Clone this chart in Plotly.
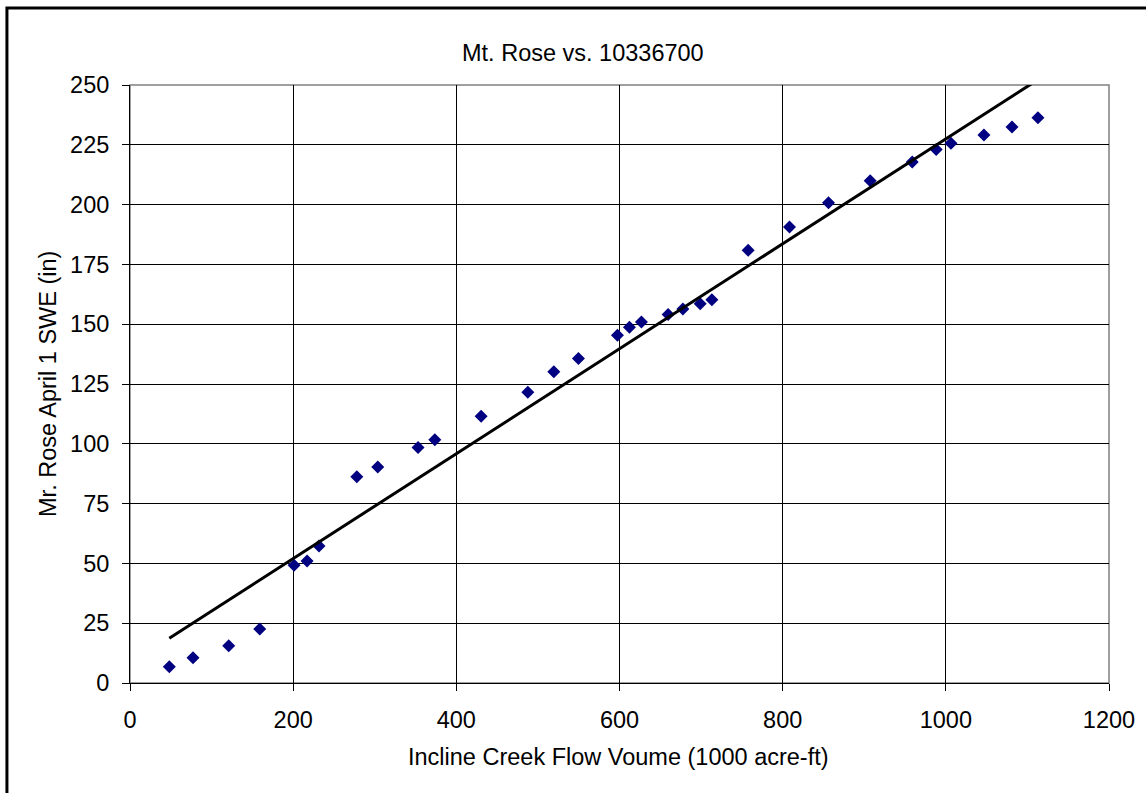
import numpy as np
import plotly.graph_objects as go

# Incline Creek flow volume (1000 acre-ft) vs. Mt. Rose April 1 SWE (in)
flow_volume = [48.2, 77.2, 121.0, 159.0, 201.1, 217.0, 231.7, 278.0, 303.7, 353.1,
               373.6, 430.4, 487.6, 519.5, 549.7, 597.5, 612.2, 626.9, 659.6, 677.7,
               698.9, 713.2, 757.7, 808.4, 856.2, 907.3, 958.8, 988.2, 1006.3, 1046.7,
               1081.1, 1112.9]
swe = [6.8, 10.6, 15.6, 22.6, 49.2, 51.0, 57.3, 86.2, 90.3, 98.5,
       101.7, 111.5, 121.5, 130.1, 135.7, 145.4, 148.7, 150.9, 154.1, 156.4,
       158.6, 160.2, 180.9, 190.6, 200.8, 210.0, 217.8, 223.0, 225.6, 229.1,
       232.4, 236.3]

x_ticks = [0, 200, 400, 600, 800, 1000, 1200]
y_ticks = [0, 25, 50, 75, 100, 125, 150, 175, 200, 225, 250]

title_text = "Mt. Rose vs. 10336700"
x_title = "Incline Creek Flow Voume (1000 acre-ft)"
y_title = "Mr. Rose April 1 SWE (in)"

# Linear trendline over the range of the data
slope, intercept = np.polyfit(flow_volume, swe, 1)
trend_x = [min(flow_volume), max(flow_volume)]
trend_y = [slope * v + intercept for v in trend_x]

FONT = "Liberation Sans, Arial, sans-serif"
TICK_SIZE = 23.5
TITLE_SIZE = 23.5

fig = go.Figure()
fig.add_trace(go.Scatter(
    x=flow_volume, y=swe, mode="markers",
    marker=dict(symbol="diamond", size=10, color="#000080"),
    showlegend=False, hoverinfo="x+y",
))
fig.add_trace(go.Scatter(
    x=trend_x, y=trend_y, mode="lines",
    line=dict(color="black", width=3),
    showlegend=False, hoverinfo="skip",
))

axis_common = dict(
    showgrid=True, gridcolor="#000000", gridwidth=1,
    showline=True, linecolor="#000000", linewidth=1,
    ticks="outside", ticklen=7, tickcolor="#000000", tickwidth=1,
    tickfont=dict(family=FONT, size=TICK_SIZE, color="black"),
    zeroline=False, mirror=False,
)

fig.update_xaxes(range=[0, 1200], tickvals=x_ticks, ticklabelstandoff=9, **axis_common)
fig.update_yaxes(range=[0, 250], tickvals=y_ticks, ticklabelstandoff=8, **axis_common)

fig.update_layout(
    width=1146, height=793,
    margin=dict(l=130, r=37, t=85, b=110),
    paper_bgcolor="white", plot_bgcolor="white",
    font=dict(family=FONT, color="black"),
    shapes=[
        # plot area border
        dict(type="rect", xref="paper", yref="paper", x0=0, x1=1, y0=0, y1=1,
             line=dict(color="#808080", width=1.5), layer="between"),
        # chart frame
        dict(type="rect", xref="paper", yref="paper",
             x0=-0.1257, x1=1.2, y0=-0.3, y1=1.1288,
             line=dict(color="black", width=3), layer="above"),
    ],
    annotations=[
        dict(text=title_text, xref="paper", yref="paper", x=0.463, y=1.054,
             xanchor="center", yanchor="middle", showarrow=False,
             font=dict(family=FONT, size=TITLE_SIZE, color="black")),
        dict(text=x_title, xref="paper", yref="paper", x=0.4986, y=-0.1237,
             xanchor="center", yanchor="middle", showarrow=False,
             font=dict(family=FONT, size=TITLE_SIZE, color="black")),
        dict(text=y_title, xref="paper", yref="paper", x=-0.0838, y=0.5,
             xanchor="center", yanchor="middle", showarrow=False, textangle=-90,
             font=dict(family=FONT, size=TITLE_SIZE, color="black")),
    ],
)

fig.write_html("out.html")
